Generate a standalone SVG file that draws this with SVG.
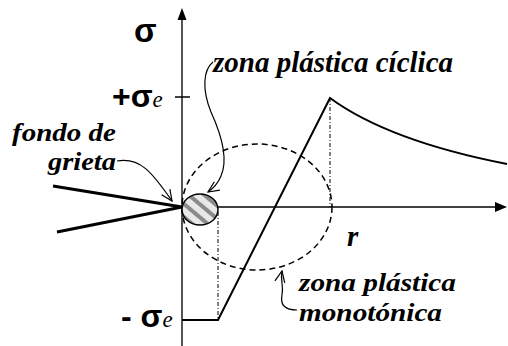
<svg xmlns="http://www.w3.org/2000/svg" width="508" height="346" viewBox="0 0 508 346">
<defs>
<style>
.lbl{font-family:"Liberation Serif","Times New Roman",serif;font-weight:bold;font-style:italic;font-size:29px;fill:#000}
.lbl2{font-family:"Liberation Serif","Times New Roman",serif;font-weight:bold;font-style:italic;font-size:26px;fill:#000}
.sig{font-family:"Liberation Sans",Arial,sans-serif;font-weight:bold;fill:#000}
.sub{font-family:"Liberation Serif","Times New Roman",serif;font-style:italic;font-size:23px;fill:#000}
.lead{fill:none;stroke:#000;stroke-width:1.2;marker-end:url(#open)}
.dd{fill:none;stroke:#000;stroke-width:1;stroke-dasharray:4 2 1 2}
</style>
<marker id="open" markerWidth="14" markerHeight="14" refX="12" refY="6" orient="auto" markerUnits="userSpaceOnUse">
<path d="M1,1 L12,6 L1,11" fill="none" stroke="#000" stroke-width="1.2"/>
</marker>
<pattern id="hatch" width="10" height="10" patternUnits="userSpaceOnUse" patternTransform="rotate(-50)">
<rect width="10" height="10" fill="#e8e8e8"/>
<rect width="4" height="10" fill="#8a8a8a"/>
</pattern>
</defs>
<rect width="508" height="346" fill="#fff"/>
<g id="axes">
<line x1="182" y1="346" x2="182" y2="19" stroke="#555" stroke-width="2"/>
<path d="M182,8 L177.5,20 L186.5,20 Z" fill="#000"/>
<line x1="182" y1="207" x2="496" y2="207" stroke="#000" stroke-width="1.5"/>
<path d="M507,207 L495,202 L495,212 Z" fill="#000"/>
<line x1="175" y1="97" x2="190" y2="97" stroke="#000" stroke-width="1.5"/>
</g>
<g id="connectors">
<path d="M53,186 L182,207 L57,232" fill="none" stroke="#000" stroke-width="3"/>
<ellipse cx="257" cy="207" rx="75" ry="63" fill="none" stroke="#000" stroke-width="1.5" stroke-dasharray="6 4"/>
<line x1="330" y1="98" x2="330" y2="207" class="dd"/>
<line x1="218" y1="212" x2="218" y2="320" class="dd"/>
<path d="M182,320 L218,320 L330,98 C360,120 410,145 507,164" fill="none" stroke="#000" stroke-width="2"/>
<path class="lead" d="M117,161 C140,157 152,172 172,201"/>
<path class="lead" d="M213,62 C203,70 202,90 211,112 C222,136 228,160 221,176 C218,183 214,188 208,192"/>
<path class="lead" d="M297,310 C285,310 280,305 282,295 C284,285 280,281 282,271"/>
</g>
<g id="crack-tip">
<ellipse cx="200" cy="209.5" rx="18" ry="15.5" fill="url(#hatch)" stroke="#000" stroke-width="1.5"/>
</g>
<g id="labels">
<text class="sig" x="134" y="42" font-size="33">σ</text>
<text x="112" y="107"><tspan class="sig" font-size="32">+σ</tspan><tspan class="sub">e</tspan></text>
<text x="121" y="327"><tspan class="sig" font-size="32">- σ</tspan><tspan class="sub">e</tspan></text>
<text class="lbl2" x="12" y="141" textLength="104" lengthAdjust="spacingAndGlyphs">fondo de</text>
<text class="lbl2" x="48" y="170" textLength="68" lengthAdjust="spacingAndGlyphs">grieta</text>
<text class="lbl" x="213" y="72">zona plástica cíclica</text>
<text class="lbl" x="347" y="246">r</text>
<text class="lbl2" x="299" y="291" textLength="157" lengthAdjust="spacingAndGlyphs">zona plástica</text>
<text class="lbl2" x="299" y="321" textLength="143" lengthAdjust="spacingAndGlyphs">monotónica</text>
</g>
</svg>
